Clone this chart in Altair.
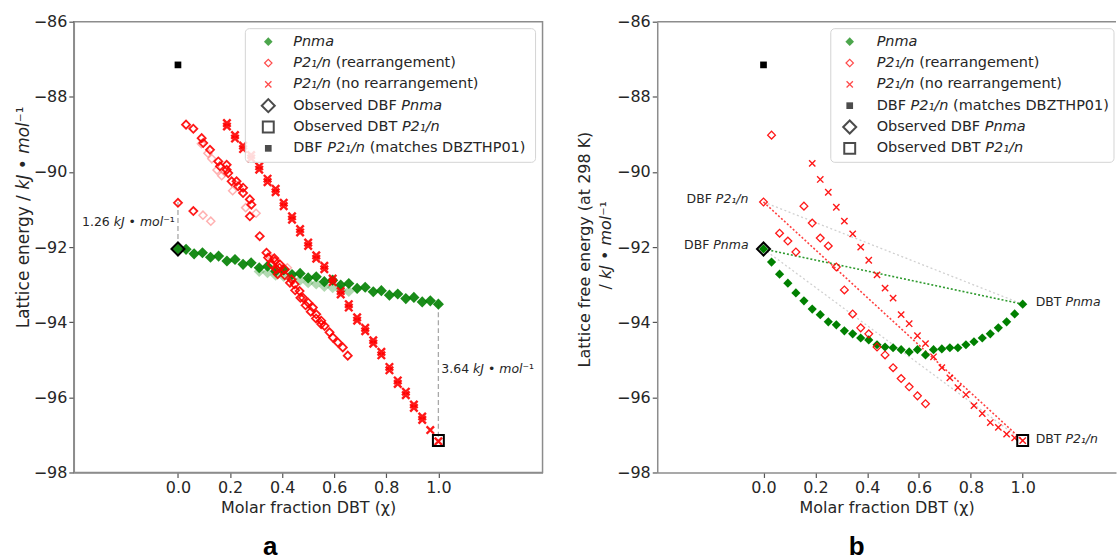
import altair as alt
import pandas as pd

FONT = "DejaVu Sans"
GREEN = "#008000"
RED = "#ff0000"
TXT = "#262626"
FRAME = "#8c8c8c"

# ---------------- data ----------------
Y_TICKS = [-86, -88, -90, -92, -94, -96, -98]
X_TICKS = [0.0, 0.2, 0.4, 0.6, 0.8, 1.0]

XG = [0.0, 0.031, 0.062, 0.094, 0.125, 0.156, 0.188, 0.219, 0.25, 0.281, 0.312,
      0.344, 0.375, 0.406, 0.438, 0.469, 0.5, 0.531, 0.562, 0.594, 0.625, 0.656,
      0.688, 0.719, 0.75, 0.781, 0.812, 0.844, 0.875, 0.906, 0.938, 0.969, 1.0]

# panel a : lattice energy
A_PNMA_Y = [-92.05, -92.06, -92.18, -92.15, -92.27, -92.24, -92.37, -92.33, -92.46, -92.42,
            -92.55, -92.51, -92.64, -92.61, -92.73, -92.70, -92.82, -92.79, -92.92, -92.88,
            -93.01, -92.97, -93.10, -93.07, -93.19, -93.16, -93.28, -93.25, -93.37, -93.34,
            -93.46, -93.43, -93.52]
A_PNMA_FAINT_X = [0.312, 0.344, 0.375, 0.406, 0.438, 0.469, 0.5, 0.531, 0.562, 0.594, 0.625, 0.656]
A_PNMA_FAINT_Y = [-92.65, -92.68, -92.75, -92.78, -92.85, -92.88, -92.95, -92.98, -93.05, -93.08, -93.15, -93.18]

A_REAR_X = [0.0, 0.059, 0.031, 0.059, 0.091, 0.097, 0.123, 0.155, 0.161, 0.187, 0.187, 0.193,
            0.206, 0.225, 0.231, 0.25, 0.25, 0.276, 0.282, 0.276, 0.314, 0.34, 0.346, 0.372,
            0.359, 0.378, 0.383, 0.391, 0.41, 0.436, 0.448, 0.467, 0.48, 0.5, 0.518, 0.531,
            0.55, 0.563, 0.582, 0.595, 0.614, 0.633, 0.652,
            0.37, 0.39, 0.41, 0.43, 0.45, 0.47, 0.49, 0.51, 0.53, 0.55]
A_REAR_Y = [-90.82, -91.04, -88.74, -88.85, -89.10, -89.23, -89.41, -89.72, -89.85, -89.81, -89.94, -90.03,
            -90.25, -90.25, -90.38, -90.42, -90.56, -90.73, -90.87, -91.18, -91.71, -92.15, -92.28, -92.37,
            -92.46, -92.59, -92.72, -92.46, -92.59, -92.86, -92.99, -93.17, -93.35, -93.48, -93.61, -93.79,
            -93.96, -94.10, -94.27, -94.41, -94.54, -94.67, -94.89,
            -92.30, -92.55, -92.75, -92.95, -93.15, -93.35, -93.55, -93.72, -93.90, -94.05]
A_REAR_FAINT_X = [0.096, 0.126, 0.09, 0.115, 0.13, 0.15, 0.168, 0.18, 0.21, 0.26, 0.30, 0.36, 0.42]
A_REAR_FAINT_Y = [-91.15, -91.31, -89.25, -89.50, -89.65, -89.95, -90.10, -90.00, -90.50, -90.95, -91.10, -92.30, -92.55]

A_NOREAR_Y = [-88.70, -89.02, -89.30, -89.55, -89.85, -90.18, -90.45, -90.82, -91.18, -91.52,
              -91.88, -92.22, -92.50, -92.84, -93.17, -93.52, -93.87, -94.15, -94.48, -94.79,
              -95.19, -95.55, -95.85, -96.19, -96.51, -96.87, -97.17]
A_NOREAR2_Y = [-88.79, -89.11, -89.39, -89.64, -89.94, -90.27, -90.54, -90.91, -91.27, -91.61,
               -91.97, -92.31, -92.59, -92.93, -93.26, -93.61, -93.96, -94.24, -94.57, -94.88,
               -95.28, -95.64, -95.94, -96.28, -96.60]

# panel b : lattice free energy (298 K)
B_PNMA_Y = [-92.05, -92.40, -92.72, -92.96, -93.22, -93.43, -93.65, -93.80, -93.99, -94.07,
            -94.23, -94.31, -94.42, -94.47, -94.60, -94.66, -94.68, -94.73, -94.79, -94.73,
            -94.87, -94.73, -94.71, -94.68, -94.68, -94.60, -94.52, -94.42, -94.31, -94.15,
            -93.99, -93.78, -93.52]
B_REAR_X = [0.0, 0.031, 0.062, 0.094, 0.125, 0.156, 0.188, 0.219, 0.25, 0.281, 0.312,
            0.344, 0.375, 0.406, 0.438, 0.469, 0.5, 0.531, 0.562, 0.594, 0.625]
B_REAR_Y = [-90.80, -89.02, -91.63, -91.84, -92.13, -90.91, -91.36, -91.76, -91.97, -92.53, -93.14,
            -93.78, -94.15, -94.31, -94.66, -94.87, -95.21, -95.50, -95.72, -95.96, -96.17]
B_NOREAR_Y = [-89.77, -90.20, -90.54, -90.94, -91.31, -91.65, -92.00, -92.35, -92.74, -93.09,
              -93.36, -93.80, -94.04, -94.36, -94.57, -94.92, -95.21, -95.48, -95.74, -95.93,
              -96.22, -96.43, -96.67, -96.80, -96.98, -97.08, -97.15]

DBF_PNMA = (0.0, -92.05)
DBF_P21N = (0.0, -90.80)
DBT_PNMA = (1.0, -93.52)
DBT_P21N = (1.0, -97.15)
DBF_P21N_MATCH = (0.0, -87.15)

# ---------------- helpers ----------------
W = {' ': 651, '(': 799, ')': 799, '.': 651, '/': 690, '0': 1303, '1': 1303, '2': 1303, '3': 1303,
     '4': 1303, '5': 1303, '6': 1303, '7': 1303, '8': 1303, '9': 1303, 'A': 1401, 'B': 1405,
     'D': 1577, 'F': 1178, 'H': 1540, 'J': 604, 'K': 1343, 'L': 1141, 'M': 1767, 'O': 1614,
     'P': 1235, 'T': 1251, 'Z': 1405, 'a': 1255, 'b': 1300, 'c': 1126, 'd': 1300, 'e': 1260,
     'f': 721, 'g': 1300, 'h': 1298, 'i': 569, 'k': 1186, 'l': 569, 'm': 1995, 'n': 1298,
     'o': 1253, 'p': 1300, 'r': 842, 's': 1067, 't': 803, 'u': 1298, 'v': 1212, 'x': 1212,
     'y': 1212, '•': 1208, '₁': 842, '⁻': 1100, '¹': 842}


def tw(s, size):
    return sum(W.get(c, 1250) for c in s) / 2048.0 * size


ONE = pd.DataFrame({"x": [0.0], "y": [0.0]})


def xenc(domain):
    return alt.X("x:Q", scale=alt.Scale(domain=domain, nice=False, zero=False),
                 axis=alt.Axis(values=X_TICKS, format=".1f", title="Molar fraction DBT (χ)"))


YENC = alt.Y("y:Q", scale=alt.Scale(domain=[-98, -86], nice=False, zero=False),
             axis=alt.Axis(values=Y_TICKS, format="d", title=None))


def seg_text(segs, size, enc, data=ONE, align="left", angle=0, dx0=0.0, dy0=0.0, color=TXT):
    total = sum(tw(t, size) for t, _ in segs)
    off = {"left": 0.0, "center": -total / 2.0, "right": -total}[align] + dx0
    out = []
    for t, st in segs:
        lead = len(t) - len(t.lstrip(" "))
        txt = t.strip(" ")
        if txt:
            out.append(alt.Chart(data).mark_text(
                text=txt, font=FONT, fontSize=size, align="left", baseline="middle",
                fontStyle="italic" if st == "i" else "normal", dx=off + tw(" " * lead, size),
                dy=dy0, angle=angle, color=color).encode(**enc))
        off += tw(t, size)
    return out


def pts(df, xd, shape, size, filled, color, opacity=1.0, sw=1.3):
    return alt.Chart(df).mark_point(shape=shape, size=size, filled=filled, color=color,
                                    opacity=opacity, strokeWidth=sw).encode(x=xenc(xd), y=YENC)


XSHAPE = "M-1,-1L1,1M-1,1L1,-1"


def legend(rows, x0, x1, sym_x, txt_x):
    layers = [alt.Chart(ONE).mark_rect(cornerRadius=4, fill="white", fillOpacity=0.85,
                                        stroke="#d4d4d4", strokeWidth=1).encode(
        x=alt.value(x0), x2=alt.value(x1), y=alt.value(7), y2=alt.value(141))]
    for i, (shape, size, filled, color, sw, segs) in enumerate(rows):
        yy = 20 + 21.4 * i
        layers.append(alt.Chart(ONE).mark_point(shape=shape, size=size, filled=filled, color=color,
                                                strokeWidth=sw).encode(x=alt.value(sym_x), y=alt.value(yy)))
        layers += seg_text(segs, 14.5, dict(x=alt.value(txt_x), y=alt.value(yy)))
    return layers


P21 = ("P2₁/n", "i")
R_PNMA = ("diamond", 75, True, GREEN, 1, [("Pnma", "i")])
R_REAR = ("diamond", 55, False, RED, 1.2, [P21, (" (rearrangement)", "n")])
R_NOREAR = (XSHAPE, 40, False, RED, 1.3, [P21, (" (no rearrangement)", "n")])
R_OBS_D = ("diamond", 170, False, "black", 2, [("Observed DBF ", "n"), ("Pnma", "i")])
R_OBS_S = ("square", 120, False, "black", 2, [("Observed DBT ", "n"), P21])
R_MATCH = ("square", 45, True, "black", 1, [("DBF ", "n"), P21, (" (matches DBZTHP01)", "n")])
UNIT = [("kJ", "i"), (" • ", "n"), ("mol", "i"), ("⁻¹", "n")]

# ---------------- panel a ----------------
XA = [-0.4, 1.4]
la = []
la.append(alt.Chart(ONE).mark_rule(opacity=0, strokeWidth=0.5).encode(
    x=alt.value(-73), x2=alt.value(-71), y=alt.value(-20)))
gap = pd.DataFrame({"x": [DBF_P21N[0], DBT_PNMA[0]], "y": [DBF_P21N[1], DBT_PNMA[1]],
                    "y2": [DBF_PNMA[1], DBT_P21N[1]]})
la.append(alt.Chart(gap).mark_rule(color="#a8a8a8", strokeDash=[5, 3], strokeWidth=1.3).encode(
    x=xenc(XA), y=YENC, y2="y2:Q"))
la.append(pts(pd.DataFrame({"x": A_PNMA_FAINT_X, "y": A_PNMA_FAINT_Y}), XA, "diamond", 125, True, GREEN, 0.3))
la.append(pts(pd.DataFrame({"x": XG, "y": A_PNMA_Y}), XA, "diamond", 125, True, GREEN, 0.9))
la.append(pts(pd.DataFrame({"x": A_REAR_FAINT_X, "y": A_REAR_FAINT_Y}), XA, "diamond", 65, False, RED, 0.3, 1.5))
la.append(pts(pd.DataFrame({"x": A_REAR_X, "y": A_REAR_Y}), XA, "diamond", 65, False, RED, 0.9, 1.8))
la.append(pts(pd.DataFrame({"x": XG[6:31], "y": A_NOREAR2_Y}), XA, XSHAPE, 55, False, RED, 0.9, 2.4))
la.append(pts(pd.DataFrame({"x": XG[6:], "y": A_NOREAR_Y}), XA, XSHAPE, 55, False, RED, 0.9, 2.4))
la.append(pts(pd.DataFrame({"x": [DBF_P21N_MATCH[0]], "y": [DBF_P21N_MATCH[1]]}), XA, "square", 45, True, "black"))
la.append(pts(pd.DataFrame({"x": [DBF_PNMA[0]], "y": [DBF_PNMA[1]]}), XA, "diamond", 170, False, "black", 1, 2))
la.append(pts(pd.DataFrame({"x": [DBT_P21N[0]], "y": [DBT_P21N[1]]}), XA, "square", 120, False, "black", 1, 2))
ann_a1 = pd.DataFrame({"x": [0.0], "y": [-91.34]})
ann_a2 = pd.DataFrame({"x": [1.0], "y": [-95.24]})
la += seg_text([("1.26 ", "n")] + UNIT, 12.5, dict(x=xenc(XA), y=YENC), data=ann_a1, align="right", dx0=-3)
la += seg_text([("3.64 ", "n")] + UNIT, 12.5, dict(x=xenc(XA), y=YENC), data=ann_a2, align="left", dx0=3)
la += legend([R_PNMA, R_REAR, R_NOREAR, R_OBS_D, R_OBS_S, R_MATCH], 172, 463, 195, 220)
la += seg_text([("Lattice energy / ", "n")] + UNIT, 17, dict(x=alt.value(-50), y=alt.value(196)),
               align="center", angle=270)
la.append(alt.Chart(ONE).mark_text(text="a", font="Liberation Sans", fontWeight="bold", fontSize=26,
                                   color="black", baseline="middle").encode(x=alt.value(197), y=alt.value(527)))
panel_a = alt.layer(*la).properties(width=470, height=452)

# ---------------- panel b ----------------
XB = [-0.41, 1.36]
lb = []
lines = pd.DataFrame({"x": [0.0, 0.0], "y": [DBF_P21N[1], DBF_PNMA[1]],
                      "x2": [1.0, 1.0], "y2": [DBT_PNMA[1], DBT_P21N[1]]})
lb.append(alt.Chart(lines).mark_rule(color="#d0d0d0", strokeDash=[2, 2.5], strokeWidth=1.3).encode(
    x=xenc(XB), y=YENC, x2="x2:Q", y2="y2:Q"))
gline = pd.DataFrame({"x": [0.0], "y": [DBF_PNMA[1]], "x2": [1.0], "y2": [DBT_PNMA[1]]})
rline = pd.DataFrame({"x": [0.0], "y": [DBF_P21N[1]], "x2": [1.0], "y2": [DBT_P21N[1]]})
lb.append(alt.Chart(gline).mark_rule(color="#2e9a2e", strokeDash=[2, 2], strokeWidth=1.6).encode(
    x=xenc(XB), y=YENC, x2="x2:Q", y2="y2:Q"))
lb.append(alt.Chart(rline).mark_rule(color="#ff4040", strokeDash=[2, 2], strokeWidth=1.6).encode(
    x=xenc(XB), y=YENC, x2="x2:Q", y2="y2:Q"))
lb.append(pts(pd.DataFrame({"x": XG, "y": B_PNMA_Y}), XB, "diamond", 85, True, GREEN))
lb.append(pts(pd.DataFrame({"x": B_REAR_X, "y": B_REAR_Y}), XB, "diamond", 60, False, RED, 0.9, 1.3))
lb.append(pts(pd.DataFrame({"x": XG[6:], "y": B_NOREAR_Y}), XB, XSHAPE, 40, False, RED, 0.9, 1.4))
lb.append(pts(pd.DataFrame({"x": [DBF_P21N_MATCH[0]], "y": [DBF_P21N_MATCH[1]]}), XB, "square", 45, True, "black"))
lb.append(pts(pd.DataFrame({"x": [DBF_PNMA[0]], "y": [DBF_PNMA[1]]}), XB, "diamond", 170, False, "black", 1, 2))
lb.append(pts(pd.DataFrame({"x": [DBT_P21N[0]], "y": [DBT_P21N[1]]}), XB, "square", 120, False, "black", 1, 2))
encb = dict(x=xenc(XB), y=YENC)
lb += seg_text([("DBF ", "n"), P21], 12.5, encb, data=pd.DataFrame({"x": [DBF_P21N[0]], "y": [DBF_P21N[1]]}),
               align="right", dx0=-15, dy0=-3)
lb += seg_text([("DBF ", "n"), ("Pnma", "i")], 12.5, encb, data=pd.DataFrame({"x": [DBF_PNMA[0]], "y": [DBF_PNMA[1]]}),
               align="right", dx0=-15, dy0=-4)
lb += seg_text([("DBT ", "n"), ("Pnma", "i")], 12.5, encb, data=pd.DataFrame({"x": [DBT_PNMA[0]], "y": [DBT_PNMA[1]]}),
               align="left", dx0=13, dy0=-2)
lb += seg_text([("DBT ", "n"), P21], 12.5, encb, data=pd.DataFrame({"x": [DBT_P21N[0]], "y": [DBT_P21N[1]]}),
               align="left", dx0=13, dy0=-2)
lb += legend([R_PNMA, R_REAR, R_NOREAR, R_MATCH, R_OBS_D, R_OBS_S], 174, 458, 193, 220)
lb += seg_text([("Lattice free energy (at 298 K)", "n")], 16, dict(x=alt.value(-72), y=alt.value(228)),
               align="center", angle=270)
lb += seg_text([("/ ", "n")] + UNIT, 16, dict(x=alt.value(-51), y=alt.value(224)), align="center", angle=270)
lb.append(alt.Chart(ONE).mark_rule(color=FRAME, strokeWidth=1.5).encode(
    x=alt.value(0), x2=alt.value(460), y=alt.value(0)))
lb.append(alt.Chart(ONE).mark_text(text="b", font="Liberation Sans", fontWeight="bold", fontSize=26,
                                   color="black", baseline="middle").encode(x=alt.value(200), y=alt.value(527)))
panel_b = alt.layer(*lb).properties(width=460, height=452,
                                    view=alt.ViewBackground(stroke="transparent"))

chart = alt.hconcat(panel_a, panel_b, spacing=115, bounds="flush", padding=0).configure_view(
    stroke=FRAME, strokeWidth=1.5
).configure_axis(
    grid=False, domainColor=FRAME, domainWidth=1.5, tickColor="#555555", tickSize=5, tickWidth=1.2,
    labelFont=FONT, labelFontSize=16, labelColor=TXT, labelPadding=2,
    titleFont=FONT, titleFontSize=16, titleColor=TXT, titleFontWeight="normal", titlePadding=4
).properties(background="white")

chart.save("out.html", embed_options={"renderer": "svg", "actions": False})
